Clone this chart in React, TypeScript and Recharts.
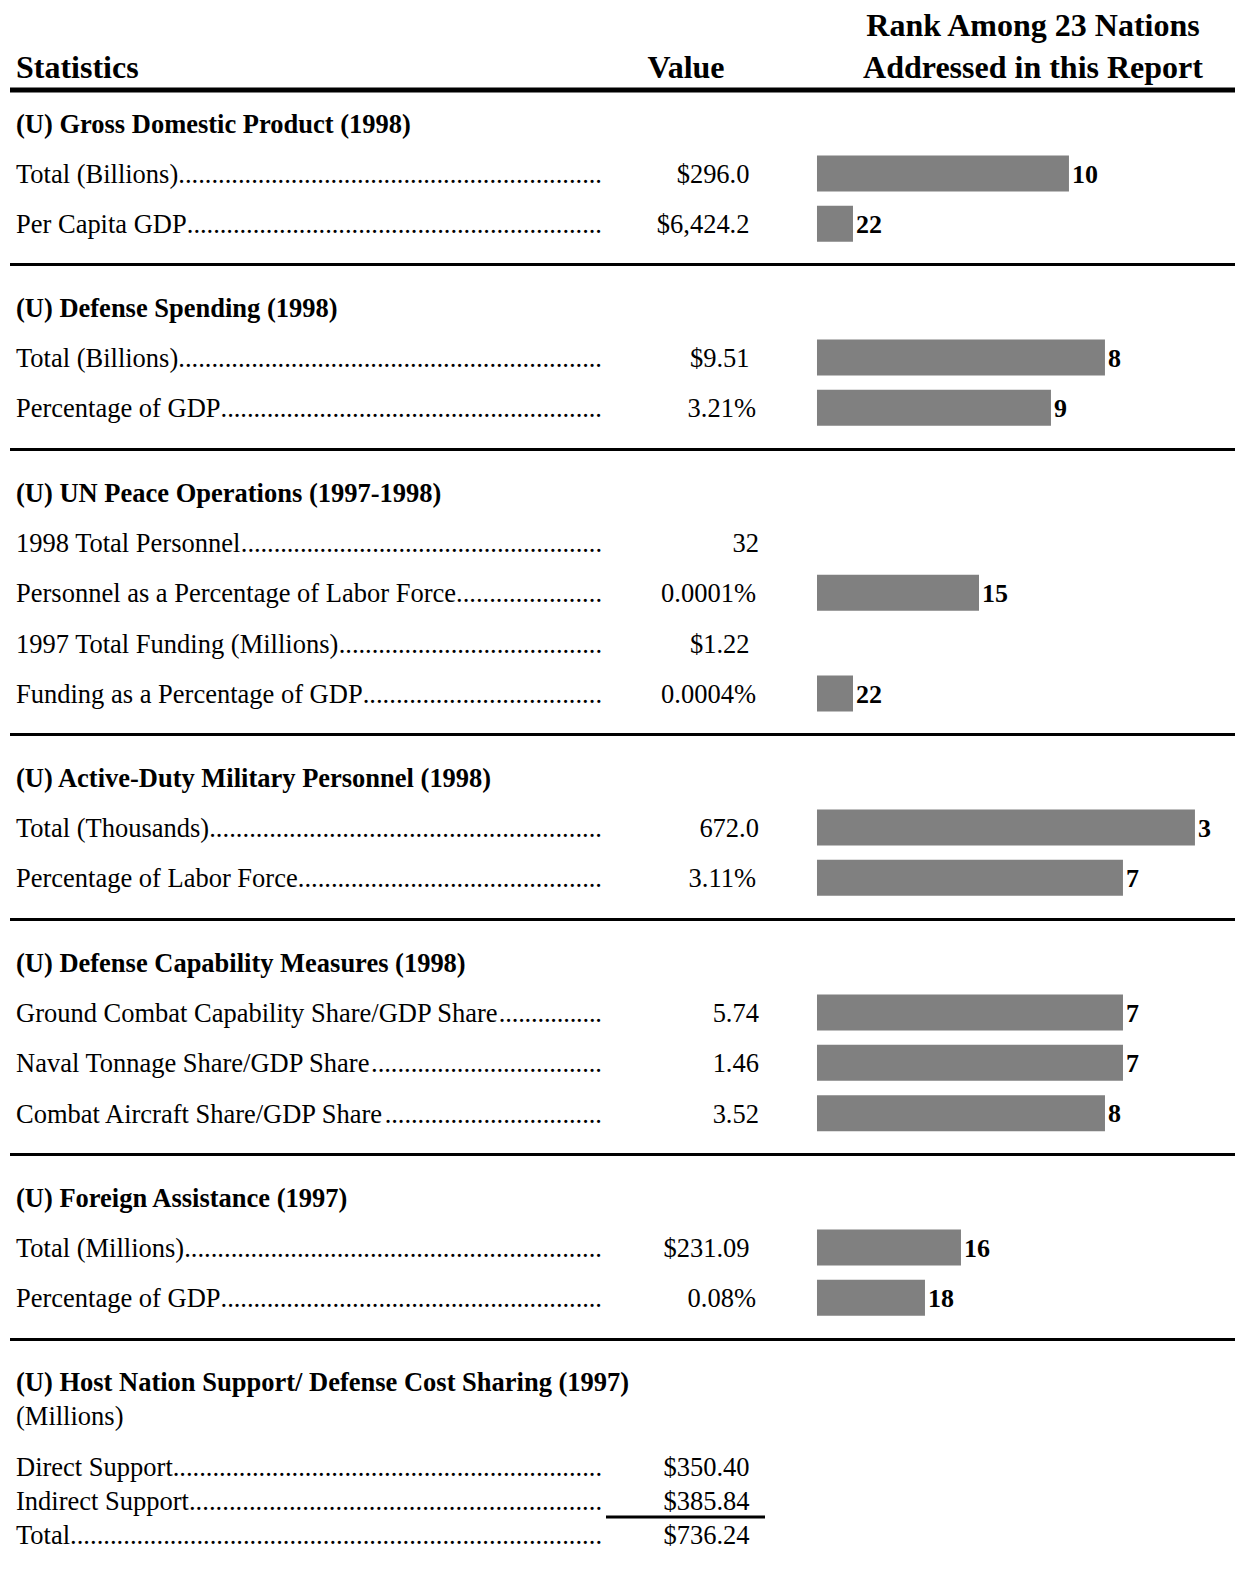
import React from "react";
import { BarChart, Bar, XAxis, YAxis, LabelList } from "recharts";

// ranks are among this many nations; the bar axis runs 0..NATIONS
const NATIONS = 23;

const gdpTitle = "(U) Gross Domestic Product (1998)";
const gdpLabels = ["Total (Billions)", "Per Capita GDP"];
const gdpValues = ["$296.0", "$6,424.2"];
const gdpRanks = [10, 22];
const gdpBars = [14, 2];

const defTitle = "(U) Defense Spending (1998)";
const defLabels = ["Total (Billions)", "Percentage of GDP"];
const defValues = ["$9.51", "3.21%"];
const defRanks = [8, 9];
const defBars = [16, 13];

const unTitle = "(U) UN Peace Operations (1997-1998)";
const unLabels = [
  "1998 Total Personnel",
  "Personnel as a Percentage of Labor Force",
  "1997 Total Funding (Millions)",
  "Funding as a Percentage of GDP",
];
const unValues = ["32", "0.0001%", "$1.22", "0.0004%"];
const unRanks = [null, 15, null, 22];
const unBars = [null, 9, null, 2];

const milTitle = "(U) Active-Duty Military Personnel (1998)";
const milLabels = ["Total (Thousands)", "Percentage of Labor Force"];
const milValues = ["672.0", "3.11%"];
const milRanks = [3, 7];
const milBars = [21, 17];

const capTitle = "(U) Defense Capability Measures (1998)";
const capLabels = [
  "Ground Combat Capability Share/GDP Share",
  "Naval Tonnage Share/GDP Share",
  "Combat Aircraft Share/GDP Share",
];
const capValues = ["5.74", "1.46", "3.52"];
const capRanks = [7, 7, 8];
const capBars = [17, 17, 16];

const aidTitle = "(U) Foreign Assistance (1997)";
const aidLabels = ["Total (Millions)", "Percentage of GDP"];
const aidValues = ["$231.09", "0.08%"];
const aidRanks = [16, 18];
const aidBars = [8, 6];

const hnsTitle = "(U) Host Nation Support/ Defense Cost Sharing (1997)";
const hnsUnit = "(Millions)";
const hnsLabels = ["Direct Support", "Indirect Support", "Total"];
const hnsValues = ["$350.40", "$385.84", "$736.24"];

// --- layout ---
const FONT = '"Liberation Serif", "Times New Roman", serif';
const PAGE_W = 1235;
const ROW_H = 50.4;
const TOP = 97.5;
const GAP = 33.4;
const RULE_OFFSET = 14.8;
const LABEL_X = 16;
const LEADER_END = 602;
const BAR_X = 817;
const FS = 26.5;
const BASE_DY = 9.4;
const BAR_COLOR = "#808080";

type Row = {
  label: string;
  heading?: boolean;
  value?: string;
  rank?: number | null;
  bar?: number | null;
};

function buildRows(
  title: string,
  labels: string[],
  values: string[],
  ranks: (number | null)[],
  bars: (number | null)[]
): Row[] {
  const rows: Row[] = [{ label: title, heading: true, rank: null, bar: null }];
  labels.forEach((label, i) => {
    rows.push({ label, value: values[i], rank: ranks[i], bar: bars[i] });
  });
  return rows;
}

const sections = [
  { id: "gdp", rows: buildRows(gdpTitle, gdpLabels, gdpValues, gdpRanks, gdpBars) },
  { id: "def", rows: buildRows(defTitle, defLabels, defValues, defRanks, defBars) },
  { id: "un", rows: buildRows(unTitle, unLabels, unValues, unRanks, unBars) },
  { id: "mil", rows: buildRows(milTitle, milLabels, milValues, milRanks, milBars) },
  { id: "cap", rows: buildRows(capTitle, capLabels, capValues, capRanks, capBars) },
  { id: "aid", rows: buildRows(aidTitle, aidLabels, aidValues, aidRanks, aidBars) },
];

// values are not right aligned on one edge in the original
function valueRight(v: string) {
  if (v.startsWith("$")) return 749.5;
  if (v.endsWith("%")) return 756;
  return 759;
}

// measure text so the dot leader runs from the label to LEADER_END
let measureCtx: CanvasRenderingContext2D | null = null;
function textWidth(s: string) {
  if (!measureCtx) {
    const c = document.createElement("canvas");
    measureCtx = c.getContext("2d");
  }
  if (!measureCtx) return s.length * FS * 0.45;
  measureCtx.font = `${FS}px "Liberation Serif", "Times New Roman", serif`;
  return measureCtx.measureText(s).width;
}

function StatLine({ y, label, value }: { y: number; label: string; value: string }) {
  const start = LABEL_X + textWidth(label);
  const room = LEADER_END - start;
  const n = Math.max(1, Math.round(room / textWidth(".")));
  return (
    <g>
      <text x={LABEL_X} y={y + BASE_DY} fontFamily={FONT} fontSize={FS} fill="#000">
        {label}
      </text>
      <text
        x={start}
        y={y + BASE_DY}
        fontFamily={FONT}
        fontSize={FS}
        fill="#000"
        textLength={room}
        lengthAdjust="spacing"
      >
        {".".repeat(n)}
      </text>
      <text x={valueRight(value)} y={y + BASE_DY} fontFamily={FONT} fontSize={FS} fill="#000" textAnchor="end">
        {value}
      </text>
    </g>
  );
}

function makeTick(rows: Row[]) {
  return (props: any) => {
    const { y, payload, index } = props;
    const row = rows.find((r) => r.label === payload.value) || rows[index];
    if (!row) return null;
    if (row.heading) {
      return (
        <text x={LABEL_X} y={y + BASE_DY} fontFamily={FONT} fontSize={FS} fontWeight="bold" fill="#000">
          {row.label}
        </text>
      );
    }
    return <StatLine y={y} label={row.label} value={row.value || ""} />;
  };
}

function Section({ rows }: { rows: Row[] }) {
  return (
    <BarChart
      width={PAGE_W}
      height={rows.length * ROW_H}
      data={rows}
      layout="vertical"
      margin={{ top: 0, right: 4, bottom: 0, left: 0 }}
    >
      <XAxis type="number" domain={[0, NATIONS]} hide />
      <YAxis
        type="category"
        dataKey="label"
        width={BAR_X}
        axisLine={false}
        tickLine={false}
        interval={0}
        tick={makeTick(rows)}
      />
      <Bar dataKey="bar" fill={BAR_COLOR} barSize={36} isAnimationActive={false}>
        <LabelList
          dataKey="rank"
          position="right"
          offset={3}
          fill="#000"
          fontFamily={FONT}
          fontSize={26}
          fontWeight="bold"
        />
      </Bar>
    </BarChart>
  );
}

function Rule() {
  return (
    <div
      style={{
        marginTop: RULE_OFFSET,
        marginBottom: GAP - RULE_OFFSET - 3,
        marginLeft: 10,
        width: PAGE_W - 10,
        height: 3,
        background: "#000",
      }}
    />
  );
}

function HostNation() {
  const step = 17;
  const c0 = ROW_H / 2;
  const rowY = [c0 + 5 * step, c0 + 7 * step, c0 + 9 * step];
  return (
    <svg width={PAGE_W} height={220} style={{ display: "block" }}>
      <text x={LABEL_X} y={c0 + BASE_DY} fontFamily={FONT} fontSize={FS} fontWeight="bold" fill="#000">
        {hnsTitle}
      </text>
      <text x={LABEL_X} y={c0 + 2 * step + BASE_DY} fontFamily={FONT} fontSize={FS} fill="#000">
        {hnsUnit}
      </text>
      {hnsLabels.map((label, i) => (
        <StatLine key={label} y={rowY[i]} label={label} value={hnsValues[i]} />
      ))}
      <rect x={606} y={rowY[1] + 15.3} width={159} height={3} fill="#000" />
    </svg>
  );
}

export default function App() {
  return (
    <div style={{ position: "absolute", left: 0, top: 0, width: PAGE_W, height: 1577, background: "#fff" }}>
      <svg width={PAGE_W} height={95} style={{ position: "absolute", left: 0, top: 0 }}>
        <text x={LABEL_X} y={77.5} fontFamily={FONT} fontSize={32} fontWeight="bold" fill="#000">
          Statistics
        </text>
        <text x={686} y={77.5} fontFamily={FONT} fontSize={32} fontWeight="bold" fill="#000" textAnchor="middle">
          Value
        </text>
        <text x={1033} y={35.5} fontFamily={FONT} fontSize={32} fontWeight="bold" fill="#000" textAnchor="middle">
          Rank Among 23 Nations
        </text>
        <text x={1033} y={77.5} fontFamily={FONT} fontSize={32} fontWeight="bold" fill="#000" textAnchor="middle">
          Addressed in this Report
        </text>
        <rect x={10} y={87.5} width={PAGE_W - 10} height={5} fill="#000" />
      </svg>
      <div style={{ position: "absolute", left: 0, top: TOP, width: PAGE_W }}>
        {sections.map((s) => (
          <div key={s.id}>
            <Section rows={s.rows} />
            <Rule />
          </div>
        ))}
        <HostNation />
      </div>
    </div>
  );
}
